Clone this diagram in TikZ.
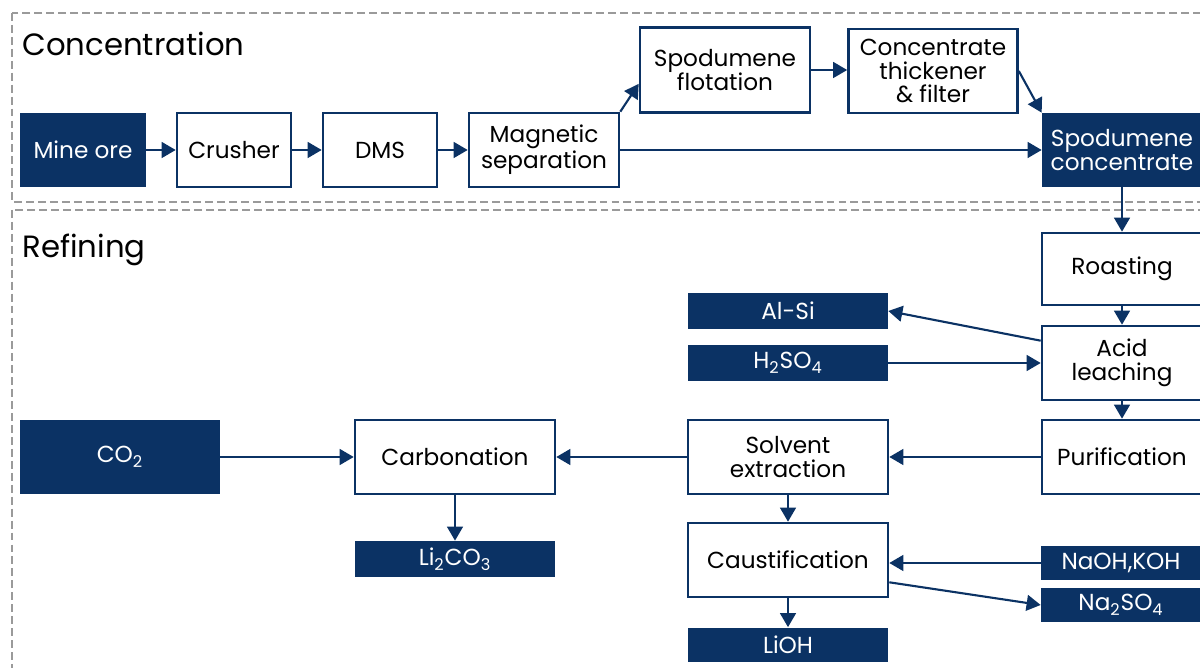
\documentclass[tikz,border=0pt]{standalone}
\usepackage{fontspec}
\setsansfont{Poppins}
\usetikzlibrary{arrows.meta,calc}
\definecolor{navy}{HTML}{0B3264}
\definecolor{dashgray}{HTML}{9A9A9A}

\begin{document}
\begin{tikzpicture}[x=0.02cm, y=-0.02cm, font=\sffamily\fontsize{13.2}{13.6}\selectfont,
    procbox/.style 2 args={draw=navy, line width=1.5pt, fill=white, text=black, align=center, inner sep=0pt, minimum width=#1, minimum height=#2},
    feed/.style 2 args={fill=navy, text=white, align=center, inner sep=0pt, minimum width=#1, minimum height=#2},
    flow/.style={draw=navy, line width=1.2pt, -{Triangle[length=8pt,width=9pt]}},
    section/.style={draw=dashgray, line width=1.1pt, dash pattern=on 4.5pt off 2.3pt},
    heading/.style={anchor=west, inner sep=0pt, font=\sffamily\fontsize{17.5}{18}\selectfont}]
        \useasboundingbox (0,0) rectangle (1200,668);
        \clip (0,0) rectangle (1200,668);
        \draw[section] (12,13) rectangle (1230,202);
        \draw[section] (12,210) rectangle (1230,700);
        \node[heading] (conctitle) at (22,44) {Concentration};
        \node[heading] (reftitle) at (22,250) {Refining};

        \node[feed={2.52cm}{1.48cm}] (ore) at (83,150) {Mine ore};
        \node[procbox={2.28cm}{1.48cm}] (crusher) at (234,150) {Crusher};
        \node[procbox={2.28cm}{1.48cm}] (dms) at (380,150) {DMS};
        \node[procbox={3cm}{1.48cm}] (magsep) at (544,150) {Magnetic\\separation};
        \node[procbox={3.4cm}{1.7cm}] (flot) at (725,70) {Spodumene\\flotation};
        \node[procbox={3.38cm}{1.68cm}] (thick) at (933,71) {Concentrate\\thickener\\\& filter};
        \node[feed={3.2cm}{1.48cm}] (conc) at (1122,150) {Spodumene\\concentrate};
        \node[procbox={3.2cm}{1.44cm}] (roast) at (1122,269) {Roasting};
        \node[procbox={3.2cm}{1.48cm}] (leach) at (1122,363) {Acid\\leaching};
        \node[procbox={3.2cm}{1.48cm}] (purif) at (1122,457) {Purification};
        \node[feed={4cm}{0.72cm}] (alsi) at (788,311) {Al-Si};
        \node[feed={4cm}{0.72cm}] (acid) at (788,363) {H\textsubscript{2}SO\textsubscript{4}};
        \node[feed={4cm}{1.48cm}] (co2) at (120,457) {CO\textsubscript{2}};
        \node[procbox={4cm}{1.48cm}] (carb) at (455,457) {Carbonation};
        \node[procbox={4cm}{1.48cm}] (solv) at (788,457) {Solvent\\extraction};
        \node[feed={4cm}{0.72cm}] (licarb) at (455,559) {Li\textsubscript{2}CO\textsubscript{3}};
        \node[procbox={4cm}{1.48cm}] (caust) at (788,560) {Caustification};
        \node[feed={4cm}{0.7cm}] (lioh) at (788,645) {LiOH};
        \node[feed={3.2cm}{0.7cm}] (naoh) at (1121,563) {NaOH,KOH};
        \node[feed={3.2cm}{0.7cm}] (naso) at (1121,605) {Na\textsubscript{2}SO\textsubscript{4}};

        \draw[flow] (ore) -- (crusher);
        \draw[flow] (crusher) -- (dms);
        \draw[flow] (dms) -- (magsep);
        \draw[flow] (magsep.north east) -- ($(flot.south west)+(0,-30)$);
        \draw[flow] (flot.east) -- (flot.east -| thick.west);
        \draw[flow] (thick.east) -- (conc.north west);
        \draw[flow] (magsep) -- (conc);
        \draw[flow] (conc) -- (roast);
        \draw[flow] (roast) -- (leach);
        \draw[flow] ($(leach.north west)+(0,16)$) -- (alsi.east);
        \draw[flow] (acid) -- (leach);
        \draw[flow] (leach) -- (purif);
        \draw[flow] (purif) -- (solv);
        \draw[flow] (solv) -- (carb);
        \draw[flow] (co2) -- (carb);
        \draw[flow] (carb) -- (licarb);
        \draw[flow] (solv) -- (caust);
        \draw[flow] (naoh.west) -- (naoh.west -| caust.east);
        \draw[flow] ($(caust.south east)+(0,-16)$) -- (naso.west);
        \draw[flow] (caust) -- (lioh);
      \end{tikzpicture}
\end{document}
